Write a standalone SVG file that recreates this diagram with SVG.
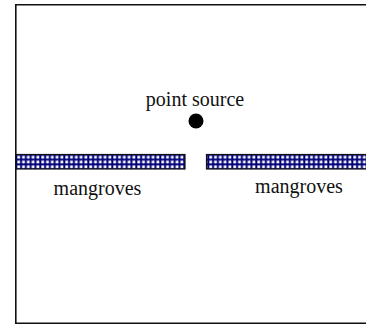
<svg xmlns="http://www.w3.org/2000/svg" width="366" height="325" viewBox="0 0 366 325">
<style>
.lbl{font-family:"Liberation Serif","Times New Roman",serif;font-size:20px;fill:#111;text-anchor:middle}
.bar{fill:url(#grid);stroke:#111;stroke-width:1.2}
</style>
<defs>
<pattern id="grid" patternUnits="userSpaceOnUse" x="16" y="154.5" width="4.8" height="4.8">
<rect width="4.8" height="4.8" fill="#00007a"/>
<rect x="1.3" y="1.3" width="2.8" height="2.8" fill="#ffffff"/>
</pattern>
</defs>
<rect x="0" y="0" width="366" height="325" fill="#ffffff"/>
<g id="frame"><path d="M370 4.8 H15.8 V323.2 H370" fill="none" stroke="#111" stroke-width="1.6"/></g>
<g id="source"><circle cx="196" cy="121" r="7.5" fill="#000"/><text class="lbl" x="195" y="106">point source</text></g>
<g id="mangroves-left"><rect class="bar" x="16" y="154.5" width="169" height="14.5"/><text class="lbl" x="97.5" y="195">mangroves</text></g>
<g id="mangroves-right"><rect class="bar" x="206.5" y="154.5" width="170" height="14.5"/><text class="lbl" x="299" y="193">mangroves</text></g>
<g id="connectors"/>
</svg>
